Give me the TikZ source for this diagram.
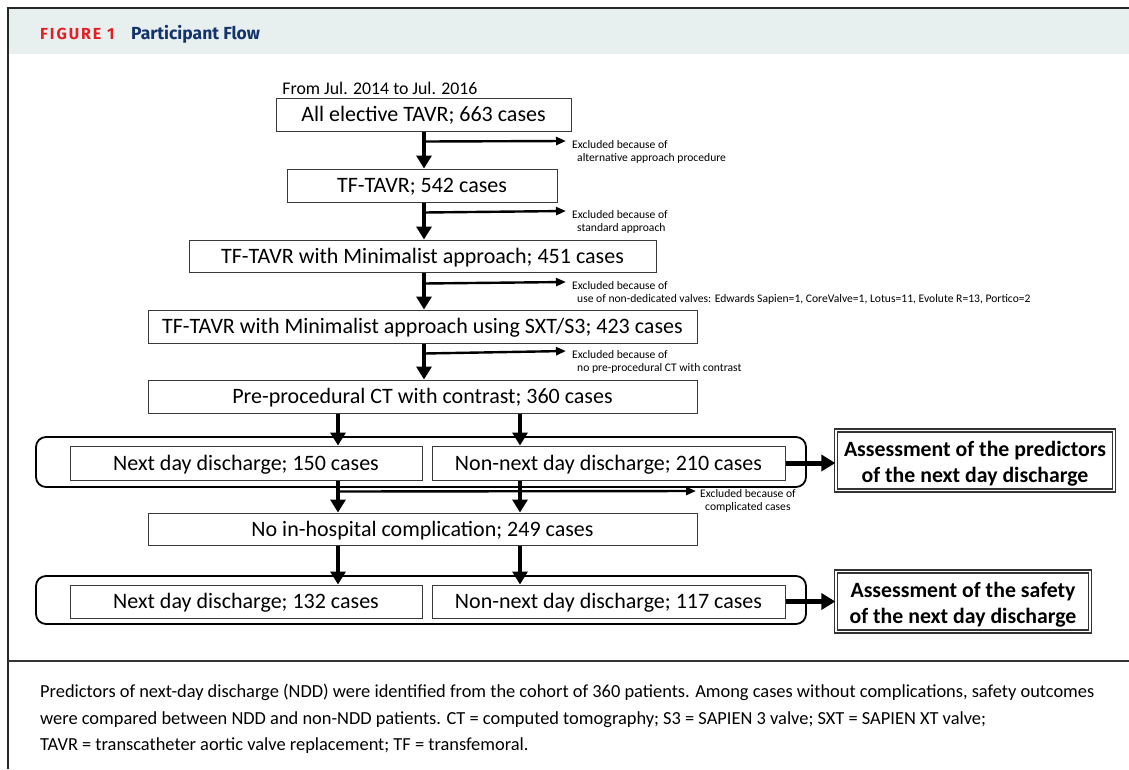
\documentclass[tikz,border=0pt]{standalone}
\usepackage{fontspec}
\setmainfont{Carlito}
\newfontfamily\headfont{Fira Sans}[LetterSpace=12]
\newfontfamily\titlefont{Fira Sans}
\usetikzlibrary{arrows.meta,calc}
\definecolor{hdrbg}{HTML}{E8F0EF}
\definecolor{figred}{HTML}{E31F26}
\definecolor{navy}{HTML}{14336B}
\definecolor{boxline}{HTML}{3A3A3A}
\begin{document}
\begin{tikzpicture}[x=1pt,y=-1pt,
  box/.style={draw=boxline, line width=1pt, inner sep=0pt, minimum height=33pt, text height=17pt, text depth=3pt, font=\fontsize{22}{24}\selectfont},
  grp/.style={draw=black, line width=1.8pt, rounded corners=10pt, inner sep=0pt},
  assess/.style={draw=black!80, double=white, double distance=1.6pt, line width=1.3pt, inner sep=0pt, minimum height=60pt, align=center, font=\bfseries\fontsize{21.8}{26}\selectfont},
  bigarr/.style={line width=4pt, -{Triangle[length=13pt,width=15pt]}},
  sidearr/.style={line width=5pt, -{Triangle[length=14pt,width=16pt]}},
  smallarr/.style={line width=2.4pt, -{Triangle[length=10pt,width=8pt]}},
  exc/.style={anchor=north west, inner sep=0pt, align=left, font=\fontsize{11.6}{13.5}\selectfont},
]
\useasboundingbox (0,0) rectangle (1129,769);
% frame
\fill[hdrbg] (8,8) rectangle (1129,54);
\draw[line width=2pt, black!85] (1129,8) -- (8,8) -- (8,769);
\draw[line width=1.5pt, black!80] (8,661) -- (1129,661);
\node[anchor=base west, inner sep=0pt, text=figred, font=\headfont\bfseries\fontsize{16}{18}\selectfont] (fig) at (40,39) {FIGURE 1};
\node[anchor=base west, inner sep=0pt, text=navy, font=\titlefont\bfseries\fontsize{17.5}{20}\selectfont] (ttl) at (131,39) {Participant Flow};

% top text
\node[inner sep=0pt, font=\fontsize{17.8}{20}\selectfont] (from) at (380,88) {From Jul. 2014 to Jul. 2016};

% boxes
\node[box, minimum width=295pt] (b1) at (423.5,114.5) {All elective TAVR; 663 cases};
\node[box, minimum width=270pt] (b2) at (422,185.5) {TF-TAVR; 542 cases};
\node[box, minimum width=467pt, minimum height=32pt] (b3) at (422.5,256) {TF-TAVR with Minimalist approach; 451 cases};
\node[box, minimum width=549pt] (b4) at (422.5,326.5) {TF-TAVR with Minimalist approach using SXT/S3; 423 cases};
\node[box, minimum width=549pt] (b5) at (422.5,396.5) {Pre-procedural CT with contrast; 360 cases};

\node[grp, minimum width=770pt, minimum height=50pt] (g1) at (421,462) {};
\node[box, minimum width=352pt, minimum height=34pt] (b6a) at (246,463) {Next day discharge; 150 cases};
\node[box, minimum width=353pt, minimum height=34pt] (b6b) at (608.5,463) {Non-next day discharge; 210 cases};
\node[box, minimum width=549pt, minimum height=32pt] (b7) at (422.5,529) {No in-hospital complication; 249 cases};
\node[grp, minimum width=770pt, minimum height=48pt] (g2) at (421,600) {};
\node[box, minimum width=352pt] (b8a) at (246,601.5) {Next day discharge; 132 cases};
\node[box, minimum width=353pt] (b8b) at (608.5,601.5) {Non-next day discharge; 117 cases};

\node[assess, minimum width=278pt] (a1) at (975,460.5) {\rule{0pt}{21pt}Assessment of the predictors\\of the next day discharge};
\node[assess, minimum width=254pt] (a2) at (963,601.5) {\rule{0pt}{21pt}Assessment of the safety\\of the next day discharge};

% exclusion labels
\node[exc] (e1) at (572,140) {Excluded because of\\\hspace*{5pt}alternative approach procedure};
\node[exc] (e2) at (572,210) {Excluded because of\\\hspace*{5pt}standard approach};
\node[exc] (e3) at (572,281) {Excluded because of\\\hspace*{5pt}use of non-dedicated valves: Edwards Sapien=1, CoreValve=1, Lotus=11, Evolute R=13, Portico=2};
\node[exc] (e4) at (572,350) {Excluded because of\\\hspace*{5pt}no pre-procedural CT with contrast};
\node[exc] (e5) at (700,489) {Excluded because of\\\hspace*{5pt}complicated cases};

% trunk arrows
\coordinate (t1) at (424,0);
\draw[bigarr] (b1.south -| t1) -- (b2.north -| t1);
\draw[bigarr] (b2.south -| t1) -- (b3.north -| t1);
\draw[bigarr] (b3.south -| t1) -- (b4.north -| t1);
\draw[bigarr] (b4.south -| t1) -- (b5.north -| t1);
% branches
\draw[smallarr] ($(b1.south -| t1)+(0,10)$) -- ($(e1.north west)+(-6,1)$);
\draw[smallarr] ($(b2.south -| t1)+(0,10)$) -- ($(e2.north west)+(-6,1)$);
\draw[smallarr] ($(b3.south -| t1)+(0,11)$) -- ($(e3.north west)+(-6,1)$);
\draw[smallarr] ($(b4.south -| t1)+(0,10)$) -- ($(e4.north west)+(-6,1)$);

% split arrows
\coordinate (cL) at (338,0);
\coordinate (cR) at (520,0);
\draw[bigarr] (b5.south -| cL) -- (b6a.north -| cL);
\draw[bigarr] (b5.south -| cR) -- (b6b.north -| cR);
\draw[bigarr] (b6a.south -| cL) -- (b7.north -| cL);
\draw[bigarr] (b6b.south -| cR) -- (b7.north -| cR);
\draw[smallarr] ($(b6a.south -| cL)+(0,11)$) -- ($(e5.north west)+(-4,2)$);
\draw[bigarr] (b7.south -| cL) -- (b8a.north -| cL);
\draw[bigarr] (b7.south -| cR) -- (b8b.north -| cR);

% side arrows
\draw[sidearr] (b6b.east) -- (a1.west |- b6b.east);
\draw[sidearr] (b8b.east) -- (a2.west |- b8b.east);

% caption
\node[anchor=north west, inner sep=0pt, align=left, font=\fontsize{18.4}{26.5}\selectfont] (cap) at (40,684) {Predictors of next-day discharge (NDD) were identified from the cohort of 360 patients. Among cases without complications, safety outcomes\\were compared between NDD and non-NDD patients. CT = computed tomography; S3 = SAPIEN 3 valve; SXT = SAPIEN XT valve;\\TAVR = transcatheter aortic valve replacement; TF = transfemoral.};
\end{tikzpicture}
\end{document}
